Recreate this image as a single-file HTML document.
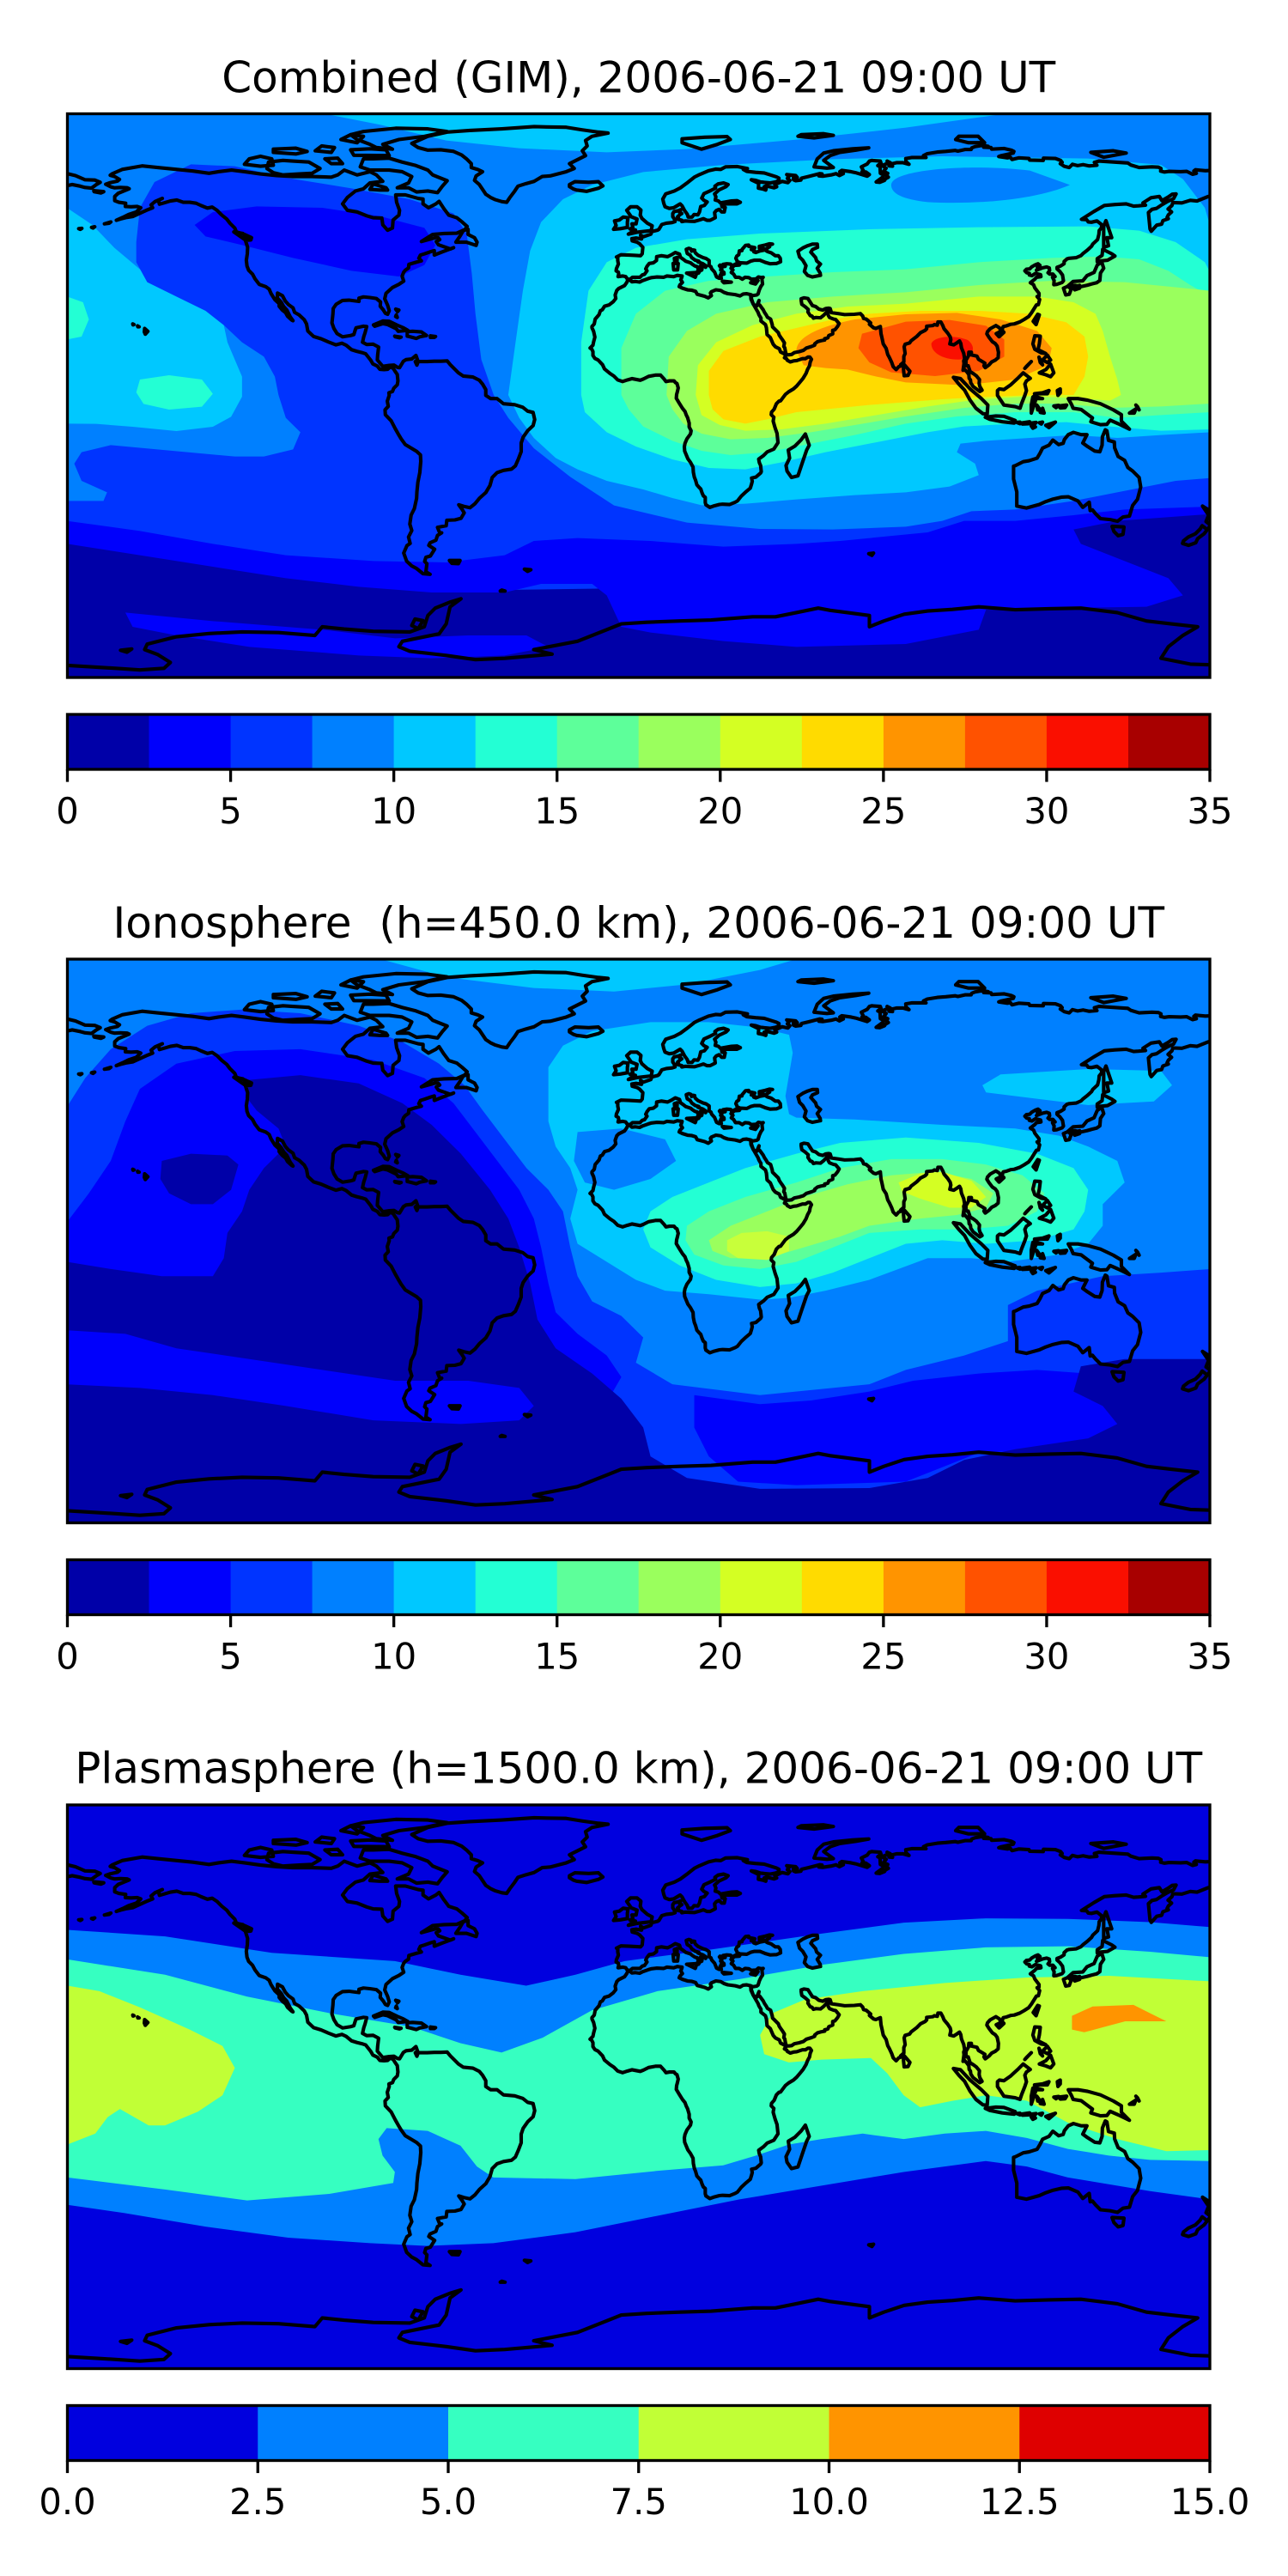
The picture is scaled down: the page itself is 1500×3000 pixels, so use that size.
<!DOCTYPE html>
<html><head><meta charset="utf-8">
<style>
html,body{margin:0;padding:0;background:#fff;}
svg{display:block;}
text{font-family:"DejaVu Sans","Liberation Sans",sans-serif;fill:#000;}
</style></head>
<body>
<svg xmlns="http://www.w3.org/2000/svg" xmlns:xlink="http://www.w3.org/1999/xlink" width="1500" height="3000" viewBox="0 0 1500 3000">
<rect width="1500" height="3000" fill="#fff"/>
<defs>
<g id="coast" fill="none" stroke="#000" stroke-width="1.1" stroke-linejoin="round" stroke-linecap="round">
<!-- North + South America -->
<path d="M-166,68.9 L-163,70.2 L-156.8,71.3 L-152,70.8 L-145,70.1 L-141,69.7 L-136,69 L-133,69.5 L-129,70 L-125,69.5 L-120,68.8 L-115,68.3 L-110,68 L-104,68 L-98,67.8 L-96,68.5 L-94,70 L-90,68.5 L-86,69.5 L-84,68.5 L-82,66.5 L-86,66 L-88,64.2 L-90.5,63.5 L-93,61.5 L-94.5,59.5 L-93,57.5 L-90,57 L-87,55.8 L-85,55.2 L-82.3,55.1 L-82,53 L-80.5,51.3 L-79,52 L-78.8,54.5 L-77,56 L-76.8,57.5 L-77.7,60 L-78,62.3 L-75,62.3 L-71,61.2 L-69.5,61 L-69.5,59.5 L-67.8,58.3 L-65.5,59.5 L-64.5,60.3 L-63,58 L-61.5,56 L-59,55.2 L-57.5,54 L-55.8,52.5 L-56.5,51.5 L-59,50.4 L-63,50.3 L-66.5,50 L-70,47.8 L-65,49.2 L-64.3,48.4 L-65.4,47.8 L-64.7,46.8 L-61,45.5 L-60,45.9 L-63.5,44.6 L-66,43.6 L-66,45 L-67,44.7 L-69,44 L-70.3,43.6 L-70.8,42.6 L-70,41.8 L-71.5,41.4 L-73.9,40.7 L-74,39.6 L-75,38.9 L-75.5,38.3 L-76,37 L-75.5,35.5 L-77,34.5 L-79,33.5 L-81,31.7 L-81.4,30 L-80.5,28 L-80,26.3 L-80.5,25.2 L-81.2,25.5 L-81.8,26.5 L-82.8,27.7 L-82.7,29 L-84,30.1 L-86,30.4 L-88,30.6 L-89.4,30.2 L-89.4,29.2 L-91,29.4 L-92.5,29.6 L-94.5,29.5 L-96.5,28.3 L-97.4,27 L-97.5,25.3 L-97.8,22.5 L-97.2,20.8 L-96.2,19.2 L-94.5,18.2 L-92,18.6 L-91,18.9 L-90.5,20.5 L-90.3,21 L-88,21.5 L-87,21.4 L-87.5,19.5 L-87.9,18.3 L-88.3,16.5 L-87,15.8 L-85,15.9 L-83.3,15 L-83.6,12.5 L-83.7,11 L-82,9 L-80,9.3 L-78.5,9.4 L-77.4,8.7 L-76.8,8.6 L-75.6,10.6 L-74.8,11.1 L-73,11.3 L-71.7,12.4 L-71.2,11 L-71.9,10.5 L-71.4,9.4 L-71,10.5 L-68.2,10.5 L-66,10.6 L-64,10.6 L-62,10.7 L-61,9.5 L-60,8.5 L-58.5,7 L-57,6 L-54,5.7 L-52,4.7 L-51,3.5 L-50,1.8 L-50,0 L-48.5,-1 L-46.5,-1 L-44.5,-2.6 L-41,-2.9 L-38.5,-3.7 L-37,-4.9 L-35.3,-5.3 L-34.8,-7.5 L-35.3,-9.4 L-37,-11 L-38.4,-13 L-39,-14.8 L-39,-17.5 L-39.8,-19.6 L-40.8,-21.9 L-42,-22.9 L-44.5,-23.3 L-46.5,-24 L-48,-25.5 L-48.7,-28 L-50,-30.2 L-52,-32 L-53.4,-33.7 L-54.9,-34.9 L-56.8,-34.5 L-58.4,-34 L-57.3,-35.5 L-56.7,-36.5 L-57.7,-38.2 L-59.6,-38.7 L-62.1,-38.8 L-62.3,-40.5 L-65,-41 L-64.4,-42.5 L-63.7,-42.7 L-65,-43.5 L-65.5,-45 L-67.3,-45.8 L-67.7,-46.6 L-65.9,-47.8 L-67.2,-49.9 L-68.6,-50.3 L-69,-51.6 L-68.3,-52.3 L-68.6,-54.8 L-67.3,-55.6 L-69.5,-55.4 L-71.5,-53.8 L-73,-53 L-74.6,-51.5 L-75.5,-49 L-74.5,-46.7 L-73.5,-46 L-74,-44 L-73,-42 L-73.6,-40 L-73.2,-37.2 L-72.2,-35.2 L-71.5,-32 L-71.4,-30 L-71.1,-27 L-70.5,-24 L-70.2,-20.5 L-70.3,-18.5 L-71.5,-17.4 L-75,-15.3 L-76.3,-13.5 L-77.2,-12 L-78.1,-10.4 L-79.4,-7.9 L-81.2,-6 L-81.3,-4.5 L-80.3,-3.4 L-80.6,-1.8 L-80,0 L-80.1,0.8 L-79,1.2 L-78.6,2.2 L-77.5,3.3 L-77.3,4.5 L-77.5,6.5 L-78.2,7.5 L-78.7,8.3 L-79.6,8.9 L-80.5,8.1 L-81.6,8 L-82.9,8.1 L-83.7,9.1 L-85.1,9.8 L-85.8,11 L-87.3,12.9 L-88.5,13.3 L-90.1,13.7 L-91.7,14.2 L-93.4,15.6 L-94.7,16.2 L-96.6,15.7 L-98.9,16.6 L-101.2,17.6 L-103.5,18.3 L-105.3,20 L-105.7,22.2 L-106.4,23.5 L-108,25 L-109.4,25.8 L-109.9,27.2 L-111.3,28.2 L-112.3,29.3 L-113.2,31 L-114.7,31.8 L-114.8,30.3 L-113.6,29 L-112.8,27.6 L-111.8,26.5 L-110.7,24.3 L-109.9,23.2 L-110.3,23.4 L-111.6,24.6 L-112.2,25.7 L-113.2,26.5 L-114.2,27.7 L-114.2,28.5 L-115.5,29.7 L-116.7,31.6 L-117.3,33 L-118.4,33.8 L-120.4,34.5 L-121.7,36.2 L-122.5,37.7 L-123.7,38.9 L-124.2,40.2 L-124.4,42 L-124.1,44 L-124,46 L-124.7,48.2 L-123,48.3 L-122.8,49 L-125,50 L-127.5,50.8 L-128,52 L-129.5,53.5 L-130.5,54.8 L-132,56 L-133.5,57.5 L-135,58.5 L-136.5,58.2 L-138.5,59 L-140,59.7 L-142,60 L-144,60 L-146,60.7 L-148,60.4 L-150,59.8 L-151.4,59.4 L-151.7,60.6 L-150.5,61.2 L-152.8,60.2 L-154,59.2 L-153.5,58.3 L-155.5,57.5 L-157.7,56.5 L-159.6,55.6 L-161.5,55.3 L-163.5,54.8 L-164.8,54.4 L-162.8,55.3 L-161,56.2 L-158.6,57 L-157.2,58.3 L-158.3,58.7 L-160.2,58.6 L-162,58.7 L-161.9,59.7 L-164,60 L-165.3,60.5 L-165.3,61.8 L-164.2,62.8 L-162.5,63.5 L-160.8,64.2 L-161.4,64.5 L-163.5,64.6 L-165.3,64.5 L-166.5,64.8 L-168.1,65.6 L-166.7,66.1 L-164.4,66.6 L-163.8,67.1 L-165.3,68 L-166.7,68.4 L-166,68.9 Z"/>
<!-- Canadian archipelago etc -->
<path d="M-80,73.7 L-76,72.5 L-72,71.5 L-68,70 L-66.5,68.5 L-62,66.7 L-63.5,65 L-65,63 L-68,63.5 L-71.5,63.2 L-74,64.5 L-77.5,64.5 L-74,66 L-73,68 L-76,69.5 L-80,70 L-86,70 L-89,71 L-88,73.5 L-85,73.5 Z"/>
<path d="M-118,70.5 L-117.5,72.5 L-113,73 L-110,72.8 L-105,72.5 L-101.5,70.5 L-104,69 L-108,68.8 L-113,68.5 L-116,69.2 Z"/>
<path d="M-125,71.8 L-123.5,73.5 L-120,74.3 L-116.5,73.5 L-116,71.5 L-120,71.2 Z"/>
<path d="M-79,76.5 L-82,78 L-77,79.5 L-69,80.5 L-62,82 L-68,82.8 L-78,83 L-88,82 L-92,81 L-90,79.5 L-86,78 L-84,77 Z"/>
<path d="M-80,74.5 L-91,74.6 L-92,76.3 L-86,76.6 L-81,76.3 Z"/>
<path d="M-116,75.5 L-109,75 L-105.5,75.8 L-109,76.8 L-116,76.5 Z"/>
<path d="M-98,72 L-100,73.5 L-96,73.7 L-94.5,72 Z"/>
<path d="M-86,64 L-83,63.8 L-80.5,63.8 L-81,64.5 L-85,65.7 Z"/>
<path d="M-90,78.5 L-95,79.5 L-92,81 L-88,80.5 Z"/>
<path d="M-103,76 L-98,75.5 L-97,77 L-101,77.5 Z"/>
<path d="M-59.3,47.6 L-56,47.6 L-53,46.6 L-52.7,47.6 L-53.5,49 L-55.5,50 L-55.5,51.6 L-57,51.2 L-58,49.5 Z"/>
<path d="M-128.3,50.8 L-125,48.5 L-123.4,48.4 L-125.5,50.3 Z"/>
<path d="M-84.9,21.9 L-82,23.1 L-80,23 L-77.5,21.8 L-75.6,21 L-74.2,20.2 L-77.2,19.9 L-77.8,20.7 L-80.5,22 L-82,22.3 L-84.5,21.5 Z"/>
<path d="M-74.4,19.8 L-72.7,19.9 L-70,19.7 L-68.4,18.6 L-70.5,18.2 L-71.6,17.7 L-73.5,18.2 L-74.4,18.4 Z"/>
<path d="M-78.3,18.4 L-76.3,18.1 L-76.8,17.9 L-78.1,18.2 Z"/>
<path d="M-67.2,18.5 L-65.6,18.3 L-66,18 L-67.2,18 Z"/>
<path d="M-78,26.8 L-77,26.5 L-77.4,26 Z M-77.8,25 L-77.5,24.2 L-78,24.5 Z"/>
<path d="M-156,20.8 L-155,19.9 L-155.8,19 L-156.1,19.7 Z M-158.2,21.6 L-157.7,21.3 L-158.1,21.3 Z M-159.7,22.2 L-159.3,22 L-159.6,21.9 Z"/>
<path d="M-180,68.9 L-177.5,68.3 L-174.5,67 L-171.5,66.9 L-169.8,66.2 L-171,65.5 L-172.5,64.4 L-174.5,64.6 L-176,65 L-178.5,65.5 L-180,65.2"/>
<path d="M-171.8,63.6 L-168.7,63.3 L-169.6,62.9 L-171.7,63.3 Z"/>
<path d="M-176.5,51.8 L-175.5,51.9 L-176,51.6 Z M-172.5,52.2 L-171.5,52.4 L-172,52 Z M-168.5,53.3 L-166.5,53.9 L-167,53.5 Z"/>
<path d="M-61.3,-51.3 L-58,-51.3 L-58.5,-52.3 L-60.5,-52.2 Z"/>
<!-- Greenland, Iceland -->
<path d="M-73,78.3 L-68,80.5 L-62,81.8 L-55,82.3 L-45,82.8 L-35,83.5 L-25,83.3 L-20,82.5 L-15,81.8 L-12,81.5 L-17,80.5 L-19,79.2 L-18.5,77.5 L-20,76 L-19,74.5 L-22,73 L-24,72 L-22.5,70.5 L-25,69.5 L-30,68.2 L-32.5,68 L-35,66.5 L-37.5,65.8 L-40,65 L-41,63.5 L-42.5,61.5 L-43.5,60 L-45,60.2 L-47,60.8 L-48.5,61.5 L-50,62.5 L-51,64 L-52,65.5 L-53.5,66.8 L-53,68.2 L-51,69.5 L-52.5,70.2 L-54.5,70.8 L-54.5,72 L-56,73.5 L-57.5,74.7 L-60,75.8 L-64,76.3 L-68,76.2 L-71,77 Z"/>
<path d="M-24,65.5 L-22.3,66.4 L-18,66.2 L-15,66.4 L-13.6,65.1 L-14.9,64.4 L-18.7,63.4 L-21.8,63.8 L-22.7,64.1 L-24,64.9 Z"/>
<!-- Eurasia -->
<path d="M180,65.1 L178.7,64.5 L177.4,64.6 L178.5,63.5 L179.2,62.6 L177.3,62.5 L174.5,61.8 L171,60.4 L168.9,60.6 L166.3,59.8 L163.5,59.9 L163.2,59 L162,57.9 L163.1,57 L162.1,56.1 L161.7,55.3 L162.1,54.9 L160.4,54.3 L160,53.2 L158.5,52.9 L156.8,51 L156.4,51.7 L155.9,56.8 L157,57.8 L158.4,58.1 L160.2,59.3 L161.9,60.3 L163.7,61.1 L164.5,62.6 L163.3,62.5 L162,61.6 L160.1,60.5 L159.3,61.8 L156.7,61.4 L154.2,59.8 L155,59.1 L152.8,58.9 L151.3,58.8 L149,59.5 L145.5,59.3 L142.2,59 L138.9,57.1 L135.1,54.7 L136.7,54.6 L137.2,53.9 L138.2,53.8 L139.9,54.2 L141.3,53.1 L141.4,52.2 L140.6,51.2 L140.5,50 L140.1,48.4 L138.6,47 L138.2,46.3 L136.9,45.1 L135.5,44 L134.9,43.4 L133.5,42.8 L131.3,42.6 L130.6,42.4 L129.7,41.6 L129.7,40.9 L128.6,40.2 L127.5,39.8 L127.5,39.3 L128.3,38.6 L129.2,37.4 L129.5,35.6 L129.1,35.1 L127.4,34.5 L126.5,34.4 L126.6,35.7 L126.1,36.7 L126.9,36.9 L126.2,37.7 L125.2,37.7 L124.7,38.1 L125.2,38.8 L125.1,39.6 L124.3,39.9 L122.9,39.6 L121.1,38.9 L121.6,39.4 L121.4,39.8 L122.2,40.4 L121.6,40.9 L120.8,40.6 L119.6,39.9 L119,39.3 L118,39.2 L117.5,38.7 L118.1,38.1 L118.9,37.9 L118.9,37.4 L119.7,37.2 L120.8,37.9 L122.4,37.5 L122.5,36.9 L121.1,36.7 L120.6,36.1 L119.2,35 L120.2,34.4 L120.6,33.4 L121.9,31.7 L121.9,30.9 L121.3,30.7 L122.1,29.8 L121.7,28.2 L121.1,28.1 L119.6,25.7 L118.7,24.5 L117.3,23.6 L115.9,22.8 L114.2,22.2 L113.2,22.1 L111.8,21.6 L110.8,21.4 L110.4,20.3 L109.9,20.3 L109.6,21 L108.5,21.7 L106.7,20.7 L105.9,19.8 L105.7,19.1 L106.4,18 L107.4,16.7 L108.3,16.1 L108.9,15.3 L109.3,13.4 L109.2,11.7 L108.4,11 L107.2,10.4 L106.4,9.5 L105.2,8.6 L104.8,9.2 L105.1,10 L104.3,10.5 L103.1,11.2 L102.6,12.2 L100.8,12.6 L100.9,13.4 L100.1,13.4 L100,12.3 L99.2,10.9 L99.2,9.2 L99.9,9.2 L100.5,7.4 L101.6,6.7 L102.4,6.1 L103.4,4.9 L103.3,3.7 L103.5,2.8 L104.2,1.6 L103.5,1.2 L101.4,2.8 L100.7,3.9 L100.6,4.8 L100.2,5.3 L100.1,6.5 L99.5,7.3 L98.5,8.4 L98.3,7.8 L98.6,9.9 L98.5,10.7 L98.8,11.4 L98.5,13.1 L97.8,14.8 L97.6,16.1 L97.2,16.9 L96.5,16.4 L95.4,15.7 L94.2,16 L94.5,17.3 L94.3,18.2 L93.5,19.4 L92.4,20.7 L92,21.7 L91.4,22.8 L90.5,22.8 L90.3,21.8 L89.4,22 L88.9,21.7 L87,21.5 L87,20.7 L86.5,20.2 L85.1,19.5 L83.9,18.3 L82.2,17 L81.7,16.3 L80.3,15.9 L80,15.1 L80.3,13 L79.9,12.1 L79.9,10.4 L78.9,9.5 L79.2,9.2 L78.3,8.9 L77.5,8 L76.6,8.9 L76.1,10.3 L75.4,11.8 L74.9,12.7 L74.4,14.6 L73.5,16 L73.1,17.9 L72.8,19.2 L72.6,21.4 L71.2,20.8 L70.5,21 L69.2,22.1 L69.6,22.5 L68.2,23.7 L67.4,23.9 L67.1,24.7 L66.4,25.4 L64.5,25.2 L61.5,25.1 L59.6,25.4 L57.4,25.7 L57,27 L56.5,27.1 L55.7,27 L54.7,26.5 L53.5,26.8 L52.5,27.6 L51.5,27.9 L50.1,30.1 L48.9,30.3 L48,30 L48,29.5 L48.2,28.3 L49.3,27.5 L50.2,26.7 L50.1,25.9 L50.5,25.3 L50.8,24.8 L51.4,24.6 L51.8,24 L52.6,24.2 L54,24.1 L55,24.9 L56.1,26.1 L56.4,26.4 L56.3,25.7 L56.4,24.9 L56.8,24.2 L58.1,23.7 L58.7,23.6 L59.8,22.3 L59.3,21.4 L58.5,20.4 L57.8,20.2 L57.8,19.1 L56.6,18.6 L56.3,17.9 L55.3,17.6 L55.3,17.2 L54.2,17 L53.1,16.7 L52.2,16 L52.2,15.6 L51.2,15.2 L49.6,14.7 L48.7,14 L47.4,13.6 L45.9,13.3 L45,12.7 L44.2,12.6 L43.5,12.6 L43.2,13.2 L42.9,14.8 L42.6,15.2 L42.8,16.3 L42.3,17.1 L41.8,17.8 L41.2,18.7 L40.9,19.5 L40.2,20.2 L39.1,21.3 L39,22 L38.5,23.7 L37.5,24.3 L37.2,24.9 L36.6,25.8 L36.2,26.6 L35.1,28.1 L34.6,28.1 L34.9,29.5 L34.4,28.3 L34.2,27.8 L33.9,27.6 L33.1,28.4 L32.6,29.85 L32.3,31.3 L33,31 L34.2,31.2 L34.6,31.5 L35,32.8 L35.5,33.9 L36,34.6 L35.9,35.4 L35.8,36.3 L36.2,36.7 L35.6,36.6 L34.7,36.8 L34,36.2 L32.5,36.1 L31.7,36.6 L30.6,36.7 L29.7,36.1 L28.7,36.7 L27.6,36.7 L27,37.7 L26.3,38.2 L26.8,39 L26.2,39.5 L27.3,40.4 L28.8,40.5 L29.2,41.2 L31.1,41.1 L32.3,41.7 L33.5,42 L35.2,42 L36.9,41.3 L38.3,40.9 L40.4,41 L41.6,41.5 L41.5,42.6 L40.9,43.4 L39.96,43.4 L38.7,44.3 L37.5,44.7 L36.7,45.2 L38.2,46.2 L37.7,46.6 L39.1,47 L38.2,47.1 L36.8,46.7 L35,46.3 L35,45.7 L36.5,45.5 L36.3,45.1 L35.2,44.9 L33.9,44.4 L33.3,44.6 L33.5,45 L32.5,45.3 L33.6,45.9 L31.7,46.3 L31.7,46.7 L30.7,46.6 L29.6,45.3 L29.6,45 L28.8,44.9 L28.6,43.7 L28,43.3 L27.7,42.6 L28,42 L28.1,41.6 L29,41.2 L28,41 L26.4,40.2 L26.1,40.8 L24.9,40.9 L23.7,40.7 L24.4,40.1 L23.3,39.96 L22.8,40.5 L22.6,40.3 L23.35,39.2 L22.97,38.97 L24,38.2 L24.04,37.7 L23.1,37.9 L23.4,37.4 L22.8,37.3 L23.2,36.4 L22.5,36.4 L21.7,36.8 L21.1,38.3 L20.2,39.3 L19.96,40 L19.4,40.3 L19.4,41.4 L19.4,41.9 L18.5,42.5 L17.5,42.8 L16,43.5 L15.2,44.2 L14.9,44.7 L14.9,45.1 L14.3,45.2 L13.95,44.8 L13.7,45.5 L13.1,45.7 L12.3,45.4 L12.4,44.9 L12.6,44.1 L13.5,43.6 L14,42.8 L15.1,42 L16.2,41.7 L15.9,41.5 L17.5,40.9 L18.5,40.2 L18.3,39.8 L17.7,40.3 L16.9,40.4 L16.4,39.8 L17.2,39.4 L17.1,38.9 L16.6,38.8 L16.1,38 L15.7,37.9 L15.9,38.8 L16.1,39 L15.7,40 L15,40.2 L14.1,40.8 L13.6,41.2 L12.1,41.7 L11.2,42.4 L10.5,42.9 L10.2,43.9 L8.9,44.4 L7.9,43.8 L6.5,43.1 L4.6,43.4 L3.1,43.1 L3.04,41.9 L2.1,41.2 L0.8,41 L0.1,40.1 L-0.3,39.3 L0.1,38.7 L-0.7,37.6 L-1.4,37.4 L-2.1,36.7 L-4.4,36.7 L-5.4,35.9 L-6.2,36.4 L-6.5,36.9 L-7.5,37.1 L-8.9,36.9 L-8.7,37.7 L-8.8,38.3 L-9.5,38.7 L-9.4,39.4 L-8.8,40.8 L-9,41.9 L-8.98,42.6 L-9.4,43 L-8,43.7 L-5.4,43.6 L-3.5,43.5 L-1.9,43.4 L-1.4,44 L-1.2,46 L-2.2,47.1 L-3,47.6 L-4.5,48 L-4.6,48.7 L-3.3,48.9 L-1.6,48.6 L-1.9,49.8 L-1,49.3 L1.3,50.1 L1.6,50.9 L3.3,51.3 L3.8,51.6 L4.7,53.1 L6.1,53.5 L7.9,53.7 L8.8,54 L8.5,55 L8.1,55.5 L8.1,56.5 L8.5,57.1 L9.9,57.4 L10.6,57.7 L10.2,56.9 L10.9,56.5 L10.4,56.2 L9.6,55.5 L9.9,55 L9.3,54.8 L10.9,54.4 L10.9,54 L12,54.2 L13.6,54.1 L14.8,54.05 L16.4,54.5 L17.6,54.9 L18.7,54.4 L19.7,54.4 L21.3,55.2 L21.1,56.8 L21.6,57.4 L22.5,57.8 L23.3,57 L24.1,57 L24.4,58.4 L23.4,58.6 L23.3,59.1 L24.6,59.5 L27,59.5 L28,59.5 L29.1,60 L28.1,60.5 L26.3,60.4 L22.9,59.8 L22.3,60.4 L21.3,60.7 L21.5,61.7 L21.1,62.6 L22.4,63.8 L24.7,64.9 L25.3,65.5 L23.9,66 L22.2,65.7 L21.2,65 L21.4,64.4 L19.8,63.6 L17.8,62.7 L17.1,61.3 L17.8,60.6 L18.8,60.1 L17.9,59 L16.8,58.7 L16.4,57 L15.9,56.1 L14.7,56.2 L14.1,55.4 L12.9,55.4 L12.6,56.3 L11.8,57.4 L11,58.9 L10.4,59.5 L8.4,58.3 L7,58.1 L5.7,58.6 L5.3,59.7 L5,61 L5.9,62.6 L8.6,63.5 L10.5,64.5 L12.4,65.9 L14.8,67.8 L16.4,68.6 L19.2,69.8 L21.4,70.3 L23,70.2 L24.5,71 L28.2,71.1 L31.3,70.5 L30,70.2 L31.1,69.6 L33.8,69.3 L36.5,69.1 L40.3,67.9 L41.1,67.5 L41.1,66.8 L40,66.3 L38.4,66 L35.4,66.3 L33.9,66.8 L32.5,67 L34.8,65.9 L34.7,64.4 L36.2,64.1 L37,63.8 L37.1,64.3 L36.5,64.8 L37.2,65.1 L39.6,64.5 L40.4,64.8 L39.8,65.5 L42.1,66.5 L43.9,66.1 L44.5,66.8 L43.7,67.4 L44.2,68 L43.5,68.6 L46.3,68.3 L46.8,67.7 L45.6,67.6 L45.6,67 L46.3,66.7 L47.9,66.9 L48.1,67.5 L50.2,68 L53.7,68.9 L54.5,68.8 L53.5,68.2 L54.7,68.1 L57.3,68.5 L58.8,68.9 L59.9,68.3 L61.1,68.9 L60,69.5 L60.6,69.9 L63.5,69.5 L64.9,69.2 L68.5,68.1 L69.2,68.6 L68.1,69.4 L66.9,69.5 L67.3,69.9 L66.7,71 L68.5,71.9 L69.2,72.8 L69.9,73 L72.6,72.8 L72.8,72.2 L71.8,71.4 L72.5,71.1 L72.6,69 L73.7,68.4 L73.2,67.7 L71.3,66.3 L72.4,66.2 L73.9,66.8 L74.2,67.3 L75.1,67.8 L74.5,68.3 L74.9,69 L73.6,69.6 L74.4,70.6 L73.1,71.4 L74.9,72.1 L74.7,72.8 L75.7,72.3 L75.3,71.3 L76.4,71.2 L75.9,71.9 L77.6,72.3 L79.7,72.3 L81.5,71.8 L80.6,72.6 L80.5,73.6 L82.3,73.9 L86.8,73.9 L86,74.5 L87.2,75.1 L90.3,75.6 L92.9,75.8 L95.9,76.1 L96.7,75.9 L98.9,76.4 L100.8,76.4 L101,76.9 L102,77.3 L104.4,77.7 L106.1,77.4 L104.7,77.1 L107,77 L107.2,76.5 L111.1,76.7 L113.3,76.2 L114.1,75.8 L113.9,75.3 L110.2,74.5 L109.4,74.2 L112.1,73.8 L113,74 L113.5,73.3 L115.6,73.8 L118.8,73.6 L119,73.1 L123.2,73 L123.3,73.7 L127,73.6 L128.6,73 L129.1,72.4 L128.5,72 L129.7,71.2 L131.3,70.8 L132.3,71.8 L133.9,71.4 L135.6,71.7 L137.5,71.3 L139.9,71.5 L139.1,72.4 L140.5,72.8 L149.5,72.2 L150.4,71.6 L153,70.8 L157,71 L159,70.9 L159.8,70.5 L159.7,69.7 L160.9,69.4 L162.3,69.6 L165.9,69.5 L167.8,69.6 L169.6,68.7 L170.8,69 L170,69.7 L170.5,70.1 L173.6,69.8 L175.7,69.9 L178.6,69.4 L180,69"/>
<!-- Caspian -->
<path d="M47,44.8 L48.5,45.8 L50,46.5 L51.5,47 L53,47 L53.1,46 L51.5,45.3 L51,44.5 L52.5,42.8 L52.8,41.8 L54,40.8 L53,39.5 L53.9,38 L54,37.3 L51.5,36.8 L50,37.3 L49,38.5 L49.5,40.3 L48.5,42 L47.5,43 Z"/>
<!-- Mediterranean islands, British Isles -->
<path d="M12.4,38 L15.6,38.2 L15.1,36.7 Z"/>
<path d="M8.2,41 L9.8,41 L9.6,39 L8.4,39 Z"/>
<path d="M8.6,42.6 L9.5,42.9 L9.4,41.4 L8.7,41.7 Z"/>
<path d="M23.5,35.5 L26.3,35.2 L24,35 Z"/>
<path d="M32.3,35 L34.6,35.7 L33.8,34.6 Z"/>
<path d="M-5.7,50.1 L-3,50.7 L1.4,51.2 L1.7,52.7 L0.2,53.5 L-1.5,55 L-2,56 L-1.8,57.6 L-3,58.6 L-5,58.6 L-6.2,57.5 L-5.5,56.5 L-4.8,55.5 L-3,54.8 L-3.3,53.3 L-4.6,53.3 L-4.3,52.2 L-5.2,51.7 L-3.5,51.4 Z"/>
<path d="M-6,52.2 L-6,53.9 L-5.8,55.2 L-7.3,55.4 L-8.5,54.5 L-10,54.2 L-9.5,52.8 L-10.3,51.6 L-8.2,51.8 Z"/>
<!-- Arctic islands -->
<path d="M11,78.5 L17,76.5 L22,78 L26,79.5 L25,80.4 L18,80.2 L11,79.7 Z"/>
<path d="M52,71 L56,70.6 L58,70.8 L55,73 L57,74.5 L60,75.5 L65,76.2 L69,76.9 L64,76.6 L58,76 L55,75.3 L53,73.5 Z"/>
<path d="M96,79.5 L100,78.5 L105,78.5 L103,80.5 L97,80.5 Z"/>
<path d="M138,75.5 L142,74 L149,75.3 L145,76 Z"/>
<path d="M47,80.5 L52,80 L58,80.8 L55,81.3 L48,81 Z"/>
<!-- Africa -->
<path d="M32.3,31.3 L31,31.6 L30,31.5 L29,30.9 L27.5,31.3 L25.2,31.6 L24,32 L23,32.6 L21.5,32.8 L20.1,32.2 L19.8,31.8 L20.1,31 L19.1,30.3 L18,30.8 L15.7,31.4 L15.2,32.3 L13.9,32.7 L12.7,32.8 L11.1,33.3 L10.1,33.8 L10.3,34.3 L11.1,35.1 L10.6,35.9 L10.9,36.7 L11,37.1 L10.2,37.2 L9.5,37.3 L8.4,36.9 L6.3,37.1 L5.3,36.7 L3.2,36.8 L1.5,36.6 L0.5,36.3 L-1.2,35.7 L-2.2,35.2 L-3.6,35.4 L-4.6,35.3 L-5.2,35.8 L-5.9,35.8 L-6.2,35.1 L-6.9,34.1 L-7.7,33.7 L-8.7,33.2 L-9.3,32.6 L-9.8,31.2 L-9.6,30.1 L-10.4,29.1 L-11.7,28.1 L-13.1,27.7 L-13.8,26.6 L-14.4,26.3 L-14.8,25.1 L-15.4,24.4 L-16,23.7 L-16.3,22.2 L-17,21.4 L-17,21 L-16.5,19.9 L-16.1,18.1 L-16.5,16.6 L-16.7,15.6 L-17.6,14.7 L-17.1,14.4 L-16.7,13.6 L-16.7,12.4 L-16.1,11.5 L-15.1,11 L-13.7,9.5 L-13.1,8.2 L-11.4,6.8 L-10.2,6 L-9,4.8 L-7.5,4.3 L-6,4.8 L-4.6,5.2 L-2,4.7 L-1,5.1 L0.6,5.9 L2.7,6.3 L4.3,6.3 L5.4,5.1 L6,4.3 L7.1,4.5 L8.5,4.5 L8.9,4 L9.4,3.7 L9.8,2.3 L9.5,1 L9.3,0.3 L9.2,-0.9 L10.1,-2.4 L11.1,-4 L11.9,-5 L12.3,-6.1 L12.7,-6.9 L13.2,-8.6 L13.2,-9.8 L13.8,-11 L13.6,-12 L12.5,-13.5 L11.9,-14.9 L11.7,-16 L11.8,-17.3 L12.8,-19.7 L13.6,-20.8 L14.4,-22.3 L14.5,-23.9 L14.8,-25.4 L15.2,-26.4 L15.6,-27.8 L16.3,-28.6 L16.8,-29.1 L17.2,-30.3 L17.6,-31.2 L18.2,-31.7 L18.2,-33.3 L18.4,-34 L19.6,-34.8 L20.7,-34.4 L22.6,-33.9 L23.6,-33.8 L25.8,-33.9 L27.5,-33.2 L28.2,-32.8 L29.4,-31.3 L30.9,-29.9 L32.2,-28.8 L32.6,-27.5 L32.8,-26.7 L32.6,-25.7 L33.9,-25.4 L35.4,-24.1 L35.6,-23.7 L35.4,-21.8 L35,-20.9 L34.8,-19.8 L36.3,-18.7 L37.4,-17.6 L39.5,-16.7 L40.8,-14.7 L40.5,-11.8 L39.9,-10.1 L39.3,-8 L39.5,-6.8 L38.7,-6 L38.8,-5.2 L39.6,-4.3 L40.3,-2.6 L41.1,-1.8 L41.6,-1.7 L43.1,0.3 L44.1,1.1 L45.6,2 L46.6,2.9 L47.7,4.2 L48.6,5.3 L49.5,6.8 L50,8.1 L50.6,9.2 L50.8,10.3 L51.2,11.2 L50.7,11.9 L50.1,11.9 L49.3,11.4 L48.4,11.4 L46.6,10.8 L45.6,10.7 L44.6,10.4 L43.7,10.9 L43.5,11.3 L42.8,11.7 L43.3,12.4 L42.6,13 L41.6,13.5 L41.2,14.5 L40,15.1 L39.3,15.9 L38.4,18 L37.4,18.9 L37.2,21 L36.9,22 L35.5,23.1 L35.5,24 L34.9,25 L34.6,25.8 L33.9,27 L33.1,28.4 L32.4,29.9 L32.3,31.3"/>
<path d="M49.3,-12 L50.5,-15.5 L49.7,-17 L48.5,-20.5 L47,-25 L45,-25.5 L43.6,-23.5 L43.3,-21.8 L44.4,-19.5 L44,-17 L46,-15.8 L48,-13.8 Z"/>
<path d="M79.8,9.8 L81.8,7.5 L81.2,6.2 L80,6.1 L79.8,8 Z"/>
<path d="M69,-49.2 L70.5,-49 L70,-49.7 Z"/>
<!-- SE Asia / Japan -->
<path d="M95.3,5.6 L97.5,5.2 L100.5,2 L104,-1 L106,-3 L105.8,-5.8 L104.5,-5.7 L102.3,-4 L100.5,-1.5 L98.8,1.6 L97,3.5 Z"/>
<path d="M105.2,-6.8 L108.5,-6.4 L111,-6.5 L114.5,-7.8 L114.2,-8.6 L110.5,-8.2 L106.5,-7.4 Z"/>
<path d="M115,-8.4 L116,-8.3 L116,-8.8 Z M116.3,-8.6 L119,-8.2 L118.8,-8.8 L116.8,-8.9 Z M119.5,-8.6 L121,-8.4 L120.5,-9 Z M122,-8.5 L123,-8.3 L122.6,-8.9 Z M119.5,-9.5 L120.8,-9.8 L120,-10.2 Z M124,-9.3 L127,-8.3 L125,-10 Z"/>
<path d="M109,1.5 L109.6,2 L111,1.8 L113,3.2 L115.5,5.5 L117,7 L119.2,5.3 L118,4.5 L117.5,3.5 L118,1.5 L117.5,0 L116.5,-2.5 L116,-4 L114.5,-3.5 L111,-3 L110,-1.5 L109,0 Z"/>
<path d="M119.5,-5.5 L120.5,-2.5 L121,-1 L123,-1 L121.5,-0.6 L120.5,0.5 L123,0.8 L125,1.5 L124.5,0.5 L121.5,0.5 L120,-0.5 L119.5,-3 Z M121.2,-3 L122.5,-4.8 L121.5,-4.5 Z M123,-4 L123.5,-5.5 L122.3,-5.3 Z"/>
<path d="M127.6,1.5 L128.5,2 L128.5,0.8 L127.8,0 Z M126.5,-3.3 L128,-3.1 L127.2,-3.8 Z M128,-3.3 L130.5,-3 L130,-3.8 L128.5,-3.9 Z"/>
<path d="M131,-1 L134,-1 L137,-1.5 L141,-2.6 L145,-4.5 L147.5,-6 L147.5,-8 L150,-10.5 L146.5,-8.8 L144,-7.7 L143,-9 L141,-9.1 L138,-8.2 L138.5,-7 L135,-4.4 L132.5,-4 L132,-2.8 Z"/>
<path d="M150,-5.5 L152,-4.2 L151.5,-5.5 Z M152,-3 L153,-4.5 L152.5,-3.5 Z"/>
<path d="M120.6,18.5 L122.3,18.4 L122,16 L121.6,14.2 L124,13 L122.6,13.2 L120.6,14.3 L120,16 Z"/>
<path d="M122,7 L124,8 L125.5,9.7 L126.5,7 L125.5,5.8 L124,6.4 Z M123,11 L124.5,12.5 L125.5,11 L124.5,10.2 Z M121.9,11.9 L122.5,10.5 L123,9.5 L122.3,10.2 Z M118,9 L119.5,10.5 L117.5,8.4 Z"/>
<path d="M120.1,23 L121.5,25.2 L122,25 L121,22 Z"/>
<path d="M108.6,19.2 L110.5,20.1 L111,19.6 L109.5,18.2 Z"/>
<path d="M130.9,34 L132.5,35.4 L135.5,35.6 L136.8,37.2 L139,38.2 L140,40.5 L141.4,41.4 L142,39.5 L141,38 L140.8,35.7 L139.8,35 L138.2,34.6 L136.8,34.2 L135,33.8 L133,34.2 Z"/>
<path d="M140,41.5 L141.2,41.8 L143.2,42 L145.5,43.3 L144.5,44 L141.7,45.4 L141.5,43.5 L140,42.5 Z"/>
<path d="M129.5,33.3 L130.9,33.9 L131.9,33 L131.3,31.4 L130.2,31.2 Z"/>
<path d="M132.5,33.5 L134.5,34.2 L134.5,33.3 L133,32.8 Z"/>
<path d="M142,46 L143.5,46.5 L143,49 L144.5,49 L142.7,54.3 L142,52.5 Z"/>
<!-- Australia, NZ -->
<path d="M114,-22 L114,-26 L115,-30 L115,-33.5 L115,-34.4 L118,-35 L122,-33.9 L124,-33 L126,-32.3 L129,-31.6 L131,-31.5 L134,-32.8 L135.5,-34.8 L137.5,-33.2 L137.8,-35.8 L138.5,-35.6 L139.5,-36.8 L141,-38.3 L144,-38.6 L146.3,-39.1 L148,-37.8 L150,-37.5 L151,-34.2 L152.5,-32.3 L153.5,-28.5 L153,-25.5 L151,-23.5 L149.5,-22.4 L148.5,-20.2 L146.5,-19 L145.4,-16.3 L145.3,-14.5 L143.5,-14 L143,-11 L142.5,-10.7 L141.6,-12.9 L141.5,-15.5 L140.8,-17.5 L139.2,-17.3 L137,-15.9 L135.5,-14.8 L136.8,-12.2 L135,-12.2 L132.6,-11.5 L131,-12.2 L129.8,-13.7 L129.4,-14.9 L128,-15.3 L126.2,-13.9 L125,-15.5 L123,-16.4 L122.2,-18 L121.3,-19.5 L118.8,-20.3 L117,-20.6 L114.6,-21.8 Z"/>
<path d="M144.6,-40.7 L148.3,-40.9 L148,-43.2 L146.5,-43.6 L145.2,-42.3 Z"/>
<path d="M172.7,-34.4 L174.4,-35.5 L176,-37.6 L178.5,-37.7 L177.9,-39.2 L176.8,-40 L175.2,-41.6 L174.6,-41.2 L175.2,-40.3 L173.8,-39.2 L174.6,-37.2 Z"/>
<path d="M172.6,-40.5 L174.2,-41.7 L173.2,-43 L171.2,-44.5 L170.6,-45.8 L168.4,-46.6 L166.5,-46 L166.8,-45.2 L168.3,-44 L170.5,-43 L172,-41.5 Z"/>
<!-- Antarctica -->
<path d="M-180,-83.9 L-170,-84.5 L-157.5,-85.3 L-150,-84.8 L-148,-83 L-152,-80.5 L-156,-79 L-155.2,-77.3 L-146.1,-75 L-136,-74 L-125.7,-73.5 L-114.4,-73.7 L-103.1,-74.6 L-100.8,-71.9 L-94,-72.6 L-85,-73.3 L-73.6,-73.5 L-69.1,-71.9 L-68,-68.4 L-65.7,-66.1 L-61,-64.2 L-57.7,-63.2 L-61.1,-65.7 L-62.3,-71 L-64.5,-74.1 L-75.9,-76.4 L-77,-78.1 L-73.6,-79.5 L-62.3,-80.8 L-53.2,-82.1 L-44.1,-81.7 L-29.4,-80.4 L-35.1,-79 L-21.5,-76.4 L-12.4,-72.8 L-7.9,-71 L0,-70.5 L10.3,-70.1 L20,-69.8 L32.9,-68.8 L40,-68.8 L46.5,-67.5 L53.3,-66.1 L57,-66.8 L62.4,-67.5 L69.2,-68.4 L69.2,-71.9 L73.7,-70.1 L80,-68 L87.3,-67 L95,-66.5 L103.2,-65.7 L114.5,-66.6 L125,-66.3 L134.9,-66.1 L146.2,-67.5 L155.3,-70.1 L163,-71 L171.2,-71.9 L166.6,-74.6 L162.1,-78.1 L159.8,-81.7 L168.9,-83.5 L180,-83.9"/>
<path d="M-163.5,-79.2 L-160,-78.8 L-161.5,-79.8 Z"/>
<path d="M-72,-69.5 L-69.5,-70 L-71,-72.5 L-73,-71.5 Z"/>
<path d="M-45,-60.5 L-44,-60.8 L-45.5,-60.8 Z"/>
<path d="M-38,-54 L-36,-54.2 L-37,-54.7 Z"/>
</g>
</defs>

<!-- ================= PANEL 1 ================= -->
<text x="743.75" y="107.5" text-anchor="middle" font-size="50">Combined (GIM), 2006-06-21 09:00 UT</text>
<svg x="78.5" y="132.5" width="1330.5" height="656.5" viewBox="0 0 1330.5 656.5" overflow="hidden">
<rect x="0" y="0" width="1330.5" height="656.5" fill="#0080ff"/>
<g transform="translate(-0.5,-0.5) scale(0.84947,0.33333)">
<path fill="#00c8ff" d="M350,0 L430,40 L520,95 L620,122 L740,136 L850,125 L1000,92 L1150,50 L1290,0 Z"/>
<path fill="#00c8ff" d="M0,330 L35,390 L65,470 L100,545 L150,610 L195,670 L215,740 L220,800 L230,860 L240,920 L240,990 L225,1060 L200,1095 L150,1110 L90,1095 L40,1085 L0,1084 Z"/>
<path fill="#23ffd4" d="M0,640 L22,660 L30,720 L20,780 L0,790 Z"/>
<path fill="#23ffd4" d="M100,930 L140,915 L185,930 L200,980 L185,1025 L140,1035 L105,1015 L95,975 Z"/>
<path fill="#0034ff" d="M0,1354 L50,1354 L55,1324 L20,1284 L10,1224 L20,1184 L60,1159 L230,1199 L270,1199 L310,1174 L320,1114 L300,1064 L290,984 L285,920 L270,850 L240,800 L215,740 L190,690 L150,640 L110,590 L95,520 L95,450 L100,330 L120,240 L170,178 L230,185 L300,225 L390,262 L470,300 L530,350 L548,420 L555,560 L560,700 L568,860 L585,984 L605,1064 L640,1170 L690,1270 L750,1370 L850,1430 L950,1452 L1050,1454 L1150,1444 L1200,1424 L1240,1390 L1300,1384 L1380,1354 L1460,1314 L1520,1284 L1568,1274 L1568,1974 L0,1974 Z"/>
<path fill="#0000fc" d="M175,390 L200,345 L260,325 L350,330 L430,360 L490,400 L505,460 L490,530 L455,570 L390,550 L310,505 L240,460 L190,430 Z"/>
<path fill="#0000a8" d="M0,1480 L200,1565 L400,1645 L600,1665 L740,1660 L760,1600 L1000,1520 L1300,1430 L1568,1390 L1568,1974 L0,1974 Z"/>
<path fill="#0000fc" d="M0,1424 L100,1459 L200,1504 L300,1544 L420,1564 L520,1569 L600,1544 L640,1494 L700,1484 L800,1494 L900,1514 L1000,1504 L1060,1494 L1180,1464 L1230,1424 L1300,1424 L1380,1404 L1450,1384 L1568,1374 L1568,1400 L1440,1424 L1380,1454 L1390,1504 L1450,1564 L1510,1624 L1530,1684 L1480,1724 L1350,1729 L1260,1734 L1250,1804 L1150,1854 L1000,1864 L900,1844 L800,1814 L760,1794 L740,1684 L720,1644 L650,1644 L600,1674 L500,1674 L400,1654 L300,1624 L200,1584 L100,1544 L0,1504 Z"/>
<path fill="#0000fc" d="M80,1744 L200,1774 L350,1804 L450,1834 L550,1824 L630,1824 L660,1864 L600,1894 L500,1904 L400,1894 L250,1864 L150,1824 L90,1794 Z"/>
<path fill="#00c8ff" d="M605,984 L615,800 L625,620 L635,480 L650,380 L680,300 L720,250 L790,205 L900,180 L1050,160 L1200,150 L1400,158 L1500,180 L1530,230 L1560,330 L1568,400 L1568,1114 L1500,1124 L1440,1134 L1380,1124 L1320,1134 L1260,1144 L1225,1154 L1220,1184 L1245,1224 L1250,1264 L1210,1304 L1150,1324 L1080,1334 L1000,1349 L930,1364 L870,1369 L830,1344 L790,1314 L740,1284 L700,1244 L670,1204 L640,1134 L620,1064 Z"/>
<path fill="#0080ff" d="M1130,250 C1130,195 1240,175 1320,200 L1375,250 C1330,300 1250,320 1180,310 C1145,300 1130,280 1130,250 Z"/>
<path fill="#23ffd4" d="M705,984 L705,800 L715,620 L740,520 L780,470 L850,440 L950,420 L1100,405 L1250,398 L1400,395 L1470,410 L1520,450 L1560,520 L1568,560 L1568,1104 L1500,1109 L1430,1094 L1370,1079 L1300,1084 L1230,1094 L1180,1114 L1100,1154 L1040,1184 L980,1219 L930,1244 L880,1239 L830,1209 L780,1164 L740,1114 L710,1044 Z"/>
<path fill="#5dff9a" d="M760,984 L760,820 L780,700 L820,620 L880,585 L960,570 L1050,555 L1150,545 L1250,520 L1350,505 L1420,500 L1470,510 L1510,550 L1540,600 L1568,640 L1568,1044 L1500,1054 L1440,1064 L1380,1044 L1300,1044 L1220,1059 L1150,1084 L1080,1124 L1020,1154 L960,1184 L910,1194 L870,1179 L830,1144 L790,1094 L770,1034 Z"/>
<path fill="#9aff5d" d="M822,984 L825,850 L850,760 L890,700 L960,660 L1050,640 L1150,625 L1250,600 L1350,585 L1450,590 L1530,610 L1568,620 L1568,1014 L1500,1024 L1430,1029 L1360,1014 L1300,1014 L1230,1029 L1150,1059 L1080,1089 L1020,1114 L960,1134 L910,1139 L870,1119 L845,1084 L830,1034 Z"/>
<path fill="#d4ff23" d="M862,984 L865,880 L890,800 L940,740 L1000,700 L1070,675 L1150,665 L1250,640 L1330,640 L1380,660 L1410,700 L1420,760 L1430,850 L1440,930 L1445,984 L1430,1004 L1380,994 L1320,989 L1250,999 L1180,1024 L1110,1054 L1040,1084 L980,1104 L930,1109 L895,1089 L870,1054 Z"/>
<path fill="#ffdb00" d="M880,984 L880,900 L900,830 L950,780 L1000,750 L1050,720 L1100,700 L1170,690 L1250,690 L1320,700 L1370,730 L1395,780 L1400,850 L1395,920 L1380,984 L1330,984 L1250,992 L1200,999 L1100,1019 L1000,1044 L960,1069 L930,1084 L900,1069 L885,1034 Z"/>
<path fill="#ff9400" d="M1000,830 C1000,775 1040,740 1080,720 L1150,702 L1220,697 L1280,720 L1330,760 L1350,820 L1345,880 L1300,930 L1230,950 L1150,940 L1110,920 L1070,895 L1040,890 L1010,880 Z"/>
<path fill="#ff5200" d="M1090,770 L1150,728 L1210,722 L1260,742 L1285,790 L1285,850 L1250,900 L1190,918 L1130,905 L1100,870 L1085,820 Z"/>
<path fill="#fa0f00" d="M1185,805 C1188,780 1215,772 1235,792 C1248,818 1242,852 1225,860 C1200,862 1185,835 1185,805 Z"/>
</g>
<use xlink:href="#coast" href="#coast" transform="translate(674.64,327.95) scale(3.748,-3.748)"/>
</svg>
<rect x="78.5" y="132.5" width="1330.5" height="656.5" fill="none" stroke="#000" stroke-width="3.33"/>

<!-- colorbar 1 -->
<g>
<rect x="78.5" y="832" width="96" height="64" fill="#0000a8"/>
<rect x="173.5" y="832" width="96" height="64" fill="#0000fc"/>
<rect x="268.6" y="832" width="96" height="64" fill="#0034ff"/>
<rect x="363.6" y="832" width="96" height="64" fill="#0080ff"/>
<rect x="458.6" y="832" width="96" height="64" fill="#00c8ff"/>
<rect x="553.7" y="832" width="96" height="64" fill="#23ffd4"/>
<rect x="648.7" y="832" width="96" height="64" fill="#5dff9a"/>
<rect x="743.7" y="832" width="96" height="64" fill="#9aff5d"/>
<rect x="838.8" y="832" width="96" height="64" fill="#d4ff23"/>
<rect x="933.8" y="832" width="96" height="64" fill="#ffdb00"/>
<rect x="1028.9" y="832" width="96" height="64" fill="#ff9400"/>
<rect x="1123.9" y="832" width="96" height="64" fill="#ff5200"/>
<rect x="1218.9" y="832" width="96" height="64" fill="#fa0f00"/>
<rect x="1314" y="832" width="95" height="64" fill="#a80000"/>
<rect x="78.5" y="832" width="1330.5" height="64" fill="none" stroke="#000" stroke-width="3.33"/>
<g stroke="#000" stroke-width="3.33">
<line x1="78.5" y1="896" x2="78.5" y2="910.6"/><line x1="268.57" y1="896" x2="268.57" y2="910.6"/><line x1="458.64" y1="896" x2="458.64" y2="910.6"/><line x1="648.71" y1="896" x2="648.71" y2="910.6"/><line x1="838.79" y1="896" x2="838.79" y2="910.6"/><line x1="1028.86" y1="896" x2="1028.86" y2="910.6"/><line x1="1218.93" y1="896" x2="1218.93" y2="910.6"/><line x1="1409" y1="896" x2="1409" y2="910.6"/>
</g>
<g font-size="41.67" text-anchor="middle">
<text x="78.5" y="959">0</text><text x="268.57" y="959">5</text><text x="458.64" y="959">10</text><text x="648.71" y="959">15</text><text x="838.79" y="959">20</text><text x="1028.86" y="959">25</text><text x="1218.93" y="959">30</text><text x="1409" y="959">35</text>
</g>
</g>

<!-- ================= PANEL 2 ================= -->
<text x="743.75" y="1092" text-anchor="middle" font-size="50" style="white-space:pre" xml:space="preserve">Ionosphere  (h=450.0 km), 2006-06-21 09:00 UT</text>
<svg x="78.5" y="1117" width="1330.5" height="656.5" viewBox="0 0 1330.5 656.5" overflow="hidden">
<rect x="0" y="0" width="1330.5" height="656.5" fill="#0080ff"/>
<g transform="translate(-0.5,0) scale(0.84947,0.41964)">
<path fill="#00c8ff" d="M430,0 L520,50 L640,80 L750,90 L850,70 L950,30 L1000,0 Z"/>
<path fill="#0034ff" d="M0,410 L25,330 L60,250 L110,185 L170,150 L240,140 L320,150 L400,185 L460,230 L510,290 L545,350 L570,420 L600,500 L630,580 L660,640 L680,700 L690,800 L700,880 L720,950 L760,990 L790,1050 L780,1120 L830,1180 L950,1210 L1100,1180 L1150,1140 L1230,1100 L1290,1060 L1290,960 L1330,920 L1420,880 L1500,870 L1568,860 L1568,1568 L0,1568 Z"/>
<path fill="#0000fc" d="M0,730 L30,650 L60,560 L80,450 L100,360 L150,290 L230,255 L320,250 L420,280 L490,330 L530,400 L560,480 L590,560 L620,640 L640,720 L650,800 L660,900 L670,980 L700,1040 L740,1100 L760,1160 L740,1230 L700,1280 L640,1290 L0,1290 Z"/>
<path fill="#0000fc" d="M860,1210 L950,1235 L1020,1225 L1100,1200 L1160,1170 L1250,1150 L1330,1140 L1400,1150 L1450,1200 L1450,1290 L1420,1330 L1350,1360 L1250,1370 L1200,1410 L1150,1450 L1000,1460 L920,1450 L880,1380 L860,1300 Z"/>
<path fill="#0000a8" d="M250,335 L320,322 L400,345 L460,400 L500,460 L540,540 L580,640 L605,720 L620,800 L635,900 L645,1000 L670,1080 L720,1150 L760,1220 L790,1300 L800,1380 L850,1440 L950,1470 L1100,1468 L1180,1440 L1230,1390 L1300,1360 L1400,1330 L1440,1290 L1420,1240 L1380,1200 L1390,1130 L1450,1110 L1568,1110 L1568,1568 L0,1568 L0,840 L60,860 L130,880 L200,880 L215,830 L220,760 L240,700 L250,640 L270,580 L300,520 L290,470 L260,420 L245,380 Z"/>
<path fill="#0000fc" d="M0,1030 L80,1040 L150,1080 L250,1110 L350,1140 L450,1170 L550,1170 L620,1190 L640,1240 L620,1280 L540,1290 L420,1280 L300,1240 L200,1210 L100,1190 L0,1180 Z"/>
<path fill="#0000fc" d="M930,1300 L1000,1265 L1100,1240 L1160,1215 L1250,1230 L1320,1220 L1390,1240 L1420,1280 L1400,1320 L1340,1345 L1250,1360 L1200,1400 L1150,1430 L1000,1440 L940,1430 L910,1380 Z"/>
<path fill="#0000a8" d="M130,560 L170,540 L220,545 L235,570 L225,640 L200,680 L170,680 L140,650 L128,610 Z"/>
<path fill="#00c8ff" d="M660,300 L680,240 L720,200 L800,175 L880,175 L950,190 L990,210 L995,260 L990,320 L985,380 L990,430 L1000,440 L1080,445 L1200,460 L1300,470 L1360,490 L1400,520 L1440,560 L1450,620 L1420,680 L1420,740 L1400,790 L1360,820 L1290,840 L1240,830 L1180,830 L1140,860 L1100,890 L1040,920 L990,940 L950,945 L880,930 L820,920 L780,890 L740,840 L700,790 L690,720 L700,640 L690,580 L670,520 L660,450 L660,380 Z"/>
<path fill="#0080ff" d="M700,480 L760,470 L820,500 L835,560 L800,610 L750,640 L710,620 L695,560 Z"/>
<path fill="#00c8ff" d="M1255,350 L1280,320 L1400,305 L1500,310 L1515,350 L1490,395 L1400,405 L1300,380 L1260,370 Z"/>
<path fill="#23ffd4" d="M800,700 L830,660 L880,620 L930,580 L1000,540 L1060,510 L1150,495 L1250,510 L1330,540 L1380,580 L1400,640 L1395,700 L1380,750 L1330,780 L1260,790 L1200,780 L1150,790 L1100,830 L1050,870 L1000,900 L950,910 L890,890 L840,850 L800,800 L790,750 Z"/>
<path fill="#5dff9a" d="M850,740 L880,700 L930,660 L1000,620 L1060,580 L1130,555 L1200,555 L1260,570 L1310,600 L1340,650 L1330,700 L1290,740 L1230,750 L1170,750 L1100,760 L1050,800 L1000,840 L950,860 L900,850 L860,820 L848,780 Z"/>
<path fill="#9aff5d" d="M880,780 L910,740 L960,700 L1010,660 L1070,625 L1130,600 L1190,590 L1240,610 L1270,650 L1260,690 L1220,710 L1170,720 L1100,740 L1060,770 L1010,800 L960,830 L910,830 L885,810 Z"/>
<path fill="#d4ff23" d="M1140,620 L1170,595 L1200,590 L1240,615 L1260,660 L1240,690 L1210,690 L1170,665 L1145,645 Z"/>
<path fill="#c8ff3a" d="M905,780 L925,760 L960,755 L990,770 L990,810 L960,835 L920,830 L905,810 Z"/>
</g>
<use xlink:href="#coast" href="#coast" transform="translate(674.64,327.95) scale(3.748,-3.748)"/>
</svg>
<rect x="78.5" y="1117" width="1330.5" height="656.5" fill="none" stroke="#000" stroke-width="3.33"/>

<!-- colorbar 2 -->
<g>
<rect x="78.5" y="1816.5" width="96" height="64" fill="#0000a8"/>
<rect x="173.5" y="1816.5" width="96" height="64" fill="#0000fc"/>
<rect x="268.6" y="1816.5" width="96" height="64" fill="#0034ff"/>
<rect x="363.6" y="1816.5" width="96" height="64" fill="#0080ff"/>
<rect x="458.6" y="1816.5" width="96" height="64" fill="#00c8ff"/>
<rect x="553.7" y="1816.5" width="96" height="64" fill="#23ffd4"/>
<rect x="648.7" y="1816.5" width="96" height="64" fill="#5dff9a"/>
<rect x="743.7" y="1816.5" width="96" height="64" fill="#9aff5d"/>
<rect x="838.8" y="1816.5" width="96" height="64" fill="#d4ff23"/>
<rect x="933.8" y="1816.5" width="96" height="64" fill="#ffdb00"/>
<rect x="1028.9" y="1816.5" width="96" height="64" fill="#ff9400"/>
<rect x="1123.9" y="1816.5" width="96" height="64" fill="#ff5200"/>
<rect x="1218.9" y="1816.5" width="96" height="64" fill="#fa0f00"/>
<rect x="1314" y="1816.5" width="95" height="64" fill="#a80000"/>
<rect x="78.5" y="1816.5" width="1330.5" height="64" fill="none" stroke="#000" stroke-width="3.33"/>
<g stroke="#000" stroke-width="3.33">
<line x1="78.5" y1="1880.5" x2="78.5" y2="1895.1"/><line x1="268.57" y1="1880.5" x2="268.57" y2="1895.1"/><line x1="458.64" y1="1880.5" x2="458.64" y2="1895.1"/><line x1="648.71" y1="1880.5" x2="648.71" y2="1895.1"/><line x1="838.79" y1="1880.5" x2="838.79" y2="1895.1"/><line x1="1028.86" y1="1880.5" x2="1028.86" y2="1895.1"/><line x1="1218.93" y1="1880.5" x2="1218.93" y2="1895.1"/><line x1="1409" y1="1880.5" x2="1409" y2="1895.1"/>
</g>
<g font-size="41.67" text-anchor="middle">
<text x="78.5" y="1943.5">0</text><text x="268.57" y="1943.5">5</text><text x="458.64" y="1943.5">10</text><text x="648.71" y="1943.5">15</text><text x="838.79" y="1943.5">20</text><text x="1028.86" y="1943.5">25</text><text x="1218.93" y="1943.5">30</text><text x="1409" y="1943.5">35</text>
</g>
</g>

<!-- ================= PANEL 3 ================= -->
<text x="743.75" y="2076.5" text-anchor="middle" font-size="50">Plasmasphere (h=1500.0 km), 2006-06-21 09:00 UT</text>
<svg x="78.5" y="2102" width="1330.5" height="656.5" viewBox="0 0 1330.5 656.5" overflow="hidden">
<rect x="0" y="0" width="1330.5" height="656.5" fill="#0000df"/>
<g transform="scale(0.9558,0.638) translate(-81,-160)">
<path fill="#0080ff" d="M81,388 L200,400 L330,430 L480,445 L560,470 L640,490 L700,470 L760,445 L860,425 L1000,395 L1100,375 L1200,367 L1300,368 L1400,374 L1473,383 L1473,880 L1400,865 L1300,840 L1250,820 L1200,810 L1100,830 L1000,855 L900,880 L800,910 L700,940 L600,960 L520,965 L450,960 L350,950 L250,930 L150,905 L81,890 Z"/>
<path fill="#36ffc1" d="M81,442 L200,470 L300,510 L400,540 L500,565 L560,595 L610,612 L660,585 L720,535 L800,500 L900,478 L1000,452 L1100,432 L1200,420 L1300,418 L1400,428 L1473,438 L1473,810 L1400,808 L1350,800 L1300,788 L1250,768 L1200,755 L1150,760 L1100,770 L1050,760 L1000,770 L960,780 L920,800 L880,818 L800,828 L700,843 L600,840 L580,820 L560,782 L520,755 L470,750 L460,770 L465,800 L480,830 L478,850 L400,870 L300,882 L200,862 L81,840 Z"/>
<path fill="#c1ff36" d="M81,490 L120,500 L170,530 L230,570 L270,600 L285,640 L270,690 L240,720 L200,745 L180,745 L145,715 L130,730 L115,760 L81,780 Z"/>
<path fill="#c1ff36" d="M925,580 L940,540 L980,515 L1050,500 L1150,485 L1250,475 L1350,472 L1473,482 L1473,790 L1420,792 L1360,770 L1300,740 L1250,700 L1200,690 L1160,700 L1120,712 L1100,690 L1080,650 L1060,622 L1000,625 L960,630 L930,615 Z"/>
<path fill="#ff9400" d="M1305,545 L1330,528 L1380,525 L1400,540 L1420,555 L1395,555 L1370,555 L1345,565 L1320,575 L1305,570 Z"/>
</g>
<use xlink:href="#coast" href="#coast" transform="translate(674.64,327.95) scale(3.748,-3.748)"/>
</svg>
<rect x="78.5" y="2102" width="1330.5" height="656.5" fill="none" stroke="#000" stroke-width="3.33"/>

<!-- colorbar 3 -->
<g>
<rect x="78.5" y="2801.5" width="222.5" height="64" fill="#0000df"/>
<rect x="300.25" y="2801.5" width="222.5" height="64" fill="#0080ff"/>
<rect x="522" y="2801.5" width="222.5" height="64" fill="#36ffc1"/>
<rect x="743.75" y="2801.5" width="222.5" height="64" fill="#c1ff36"/>
<rect x="965.5" y="2801.5" width="222.5" height="64" fill="#ff9400"/>
<rect x="1187.25" y="2801.5" width="221.75" height="64" fill="#df0000"/>
<rect x="78.5" y="2801.5" width="1330.5" height="64" fill="none" stroke="#000" stroke-width="3.33"/>
<g stroke="#000" stroke-width="3.33">
<line x1="78.5" y1="2865.5" x2="78.5" y2="2880.1"/><line x1="300.25" y1="2865.5" x2="300.25" y2="2880.1"/><line x1="522" y1="2865.5" x2="522" y2="2880.1"/><line x1="743.75" y1="2865.5" x2="743.75" y2="2880.1"/><line x1="965.5" y1="2865.5" x2="965.5" y2="2880.1"/><line x1="1187.25" y1="2865.5" x2="1187.25" y2="2880.1"/><line x1="1409" y1="2865.5" x2="1409" y2="2880.1"/>
</g>
<g font-size="41.67" text-anchor="middle">
<text x="78.5" y="2928">0.0</text><text x="300.25" y="2928">2.5</text><text x="522" y="2928">5.0</text><text x="743.75" y="2928">7.5</text><text x="965.5" y="2928">10.0</text><text x="1187.25" y="2928">12.5</text><text x="1409" y="2928">15.0</text>
</g>
</g>
</svg>
</body></html>
